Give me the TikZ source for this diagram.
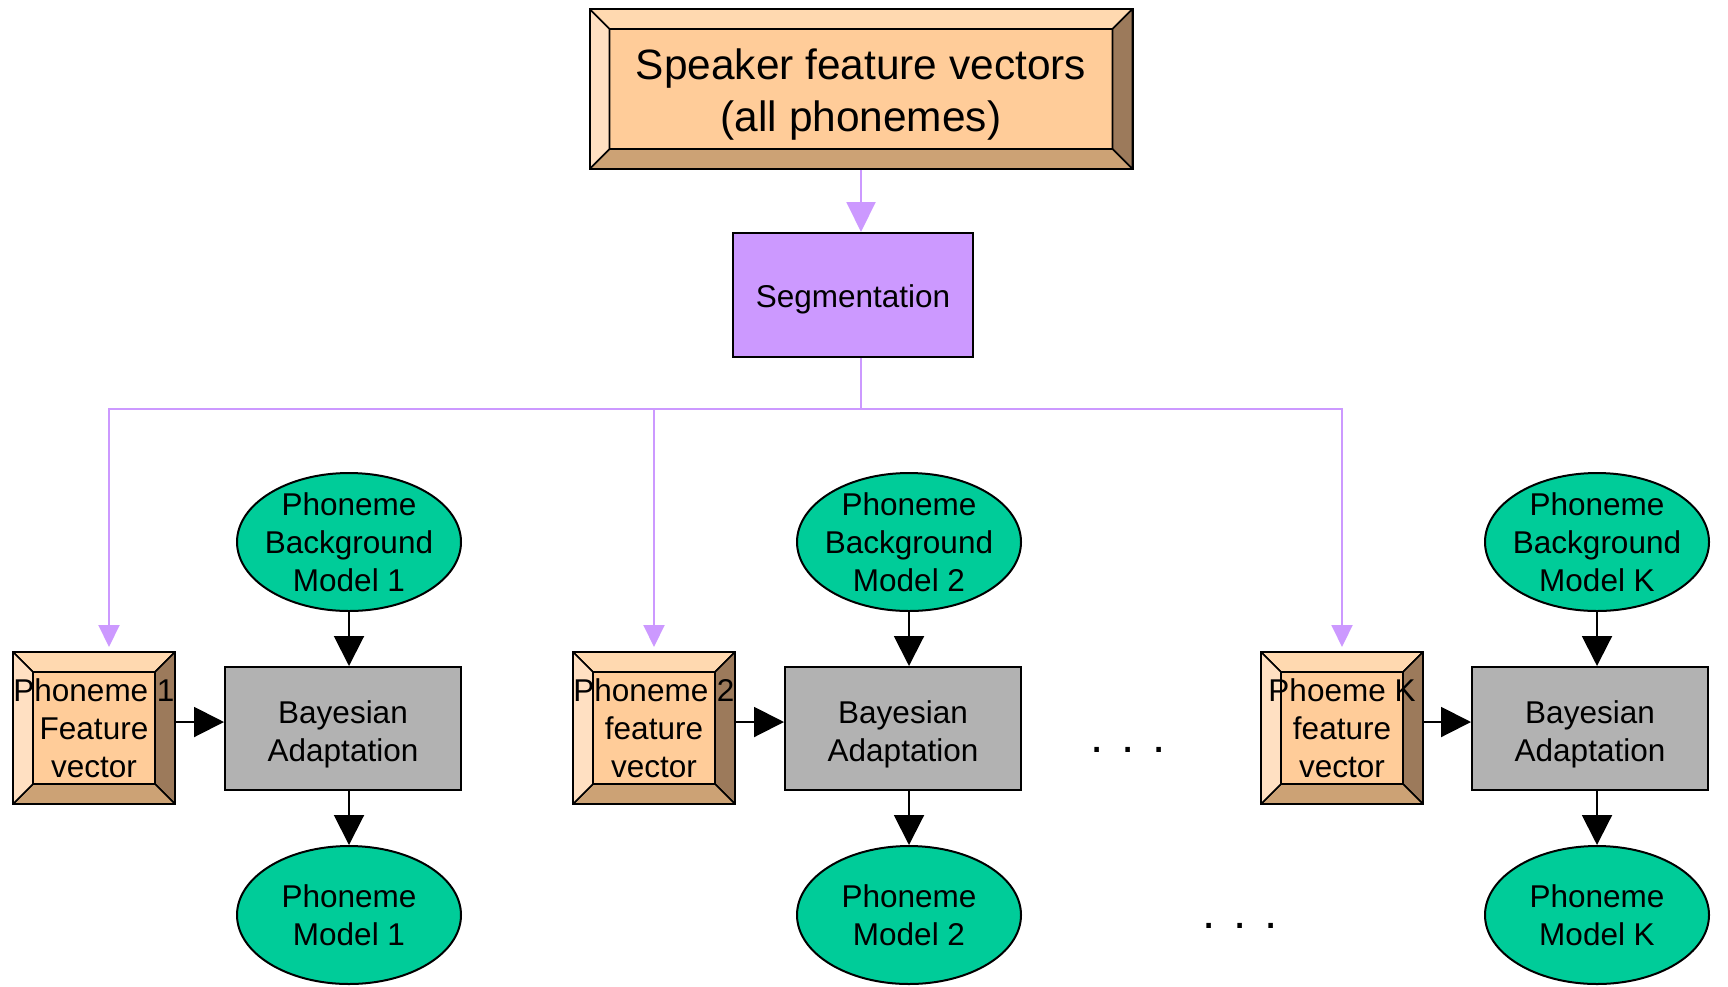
\documentclass[tikz,border=0pt]{standalone}
\usepackage{fontspec}
\setmainfont{Liberation Sans}
\usetikzlibrary{shapes.geometric,arrows.meta}

\definecolor{peach}{HTML}{FFCC99}
\definecolor{bevtop}{HTML}{FFD9B0}
\definecolor{bevleft}{HTML}{FFE0C2}
\definecolor{bevright}{HTML}{9C7A5B}
\definecolor{bevbot}{HTML}{CCA275}
\definecolor{lilac}{HTML}{CC99FF}
\definecolor{boxgray}{HTML}{B2B2B2}
\definecolor{teal}{HTML}{00CC99}

% invisible strut that pushes a text block down a little
\newcommand{\padtop}[1]{\rule{0pt}{#1}}

\tikzset{
  bevelbox/.style={draw, line width=1pt, fill=peach, inner sep=0pt, align=center,
    font=\fontsize{15.75}{19}\selectfont,
    path picture={
      \path (path picture bounding box.north west) coordinate (p1)
            (path picture bounding box.north east) coordinate (p2)
            (path picture bounding box.south east) coordinate (p3)
            (path picture bounding box.south west) coordinate (p4);
      \path (p1) ++(10pt,-10pt) coordinate (q1) (p2) ++(-10pt,-10pt) coordinate (q2)
            (p3) ++(-10pt,10pt) coordinate (q3) (p4) ++(10pt,10pt) coordinate (q4);
      \filldraw[line width=.8pt, fill=bevtop] (p1) -- (p2) -- (q2) -- (q1) -- cycle;
      \filldraw[line width=.8pt, fill=bevright] (p2) -- (p3) -- (q3) -- (q2) -- cycle;
      \filldraw[line width=.8pt, fill=bevbot] (p3) -- (p4) -- (q4) -- (q3) -- cycle;
      \filldraw[line width=.8pt, fill=bevleft] (p4) -- (p1) -- (q1) -- (q4) -- cycle;
    }},
  segbox/.style={draw, line width=1pt, fill=lilac, minimum width=120pt, minimum height=62pt,
    font=\fontsize{15.75}{19}\selectfont},
  graybox/.style={draw, line width=1pt, fill=boxgray, minimum width=118pt, minimum height=61.5pt,
    align=center, font=\fontsize{15.75}{19}\selectfont},
  greenell/.style={ellipse, draw, line width=1pt, fill=teal, minimum width=112pt, minimum height=69pt,
    inner sep=-4pt, align=center, font=\fontsize{15.75}{19}\selectfont},
  blk/.style={line width=1pt, -{Triangle[length=15pt,width=15pt]}},
  purpline/.style={draw=lilac, line width=1pt},
  purpbig/.style={purpline, -{Triangle[length=15pt,width=14.5pt]}},
  purpsmall/.style={purpline, -{Triangle[length=11pt,width=10.5pt]}, shorten >=2pt},
  dotrow/.style={anchor=base, inner sep=0pt, font=\fontsize{23.8}{28}\selectfont}
}

\begin{document}
\begin{tikzpicture}[x=0.5pt,y=-0.5pt]
\useasboundingbox (0,0) rectangle (1728,986);

\node[bevelbox, minimum width=271.5pt, minimum height=80pt, font=\fontsize{21.2}{26}\selectfont]
  (spk) at (861,89) {\padtop{0.99em}Speaker feature vectors\\(all phonemes)};
\node[segbox] (seg) at (853,295) {\padtop{1.01em}Segmentation};

\foreach \i/\fx/\bx/\ex/\k/\ftxt in {1/94/343/349/1/{Phoneme 1\\Feature\\vector},
    2/654/903/909/2/{Phoneme 2\\feature\\vector}, 3/1342/1590/1597/K/{Phoeme K\\feature\\vector}} {
  \node[bevelbox, minimum width=81pt, minimum height=76pt] (feat\i) at (\fx,728) {\ftxt};
  \node[graybox] (bay\i) at (\bx,728.5) {\padtop{1.08em}Bayesian\\Adaptation};
  \node[greenell] (pbm\i) at (\ex,542) {Phoneme\\Background\\Model \k};
  \node[greenell] (pm\i) at (\ex,915) {Phoneme\\Model \k};
  \draw[blk] (pbm\i) -- (pbm\i.south |- bay\i.north);
  \draw[blk] (bay\i.south -| pm\i) -- (pm\i);
  \draw[blk] ([yshift=3pt]feat\i.east) -- ([yshift=3pt]feat\i.east -| bay\i.west);
}

% segmentation fan-out
\coordinate (hub) at (861,409);
\draw[purpbig] (spk) -- (spk |- seg.north);
\draw[purpline] (seg.south -| spk) -- (hub);
\draw[purpsmall] (hub) -| ([xshift=7.5pt]feat1.north);
\draw[purpsmall] (hub) -| (feat2.north);
\draw[purpsmall] (hub) -| (feat3.north);

\node[dotrow] (dotsa) at (1128,752) {. . .};
\node[dotrow] (dotsb) at (1240,928) {. . .};
\end{tikzpicture}
\end{document}
